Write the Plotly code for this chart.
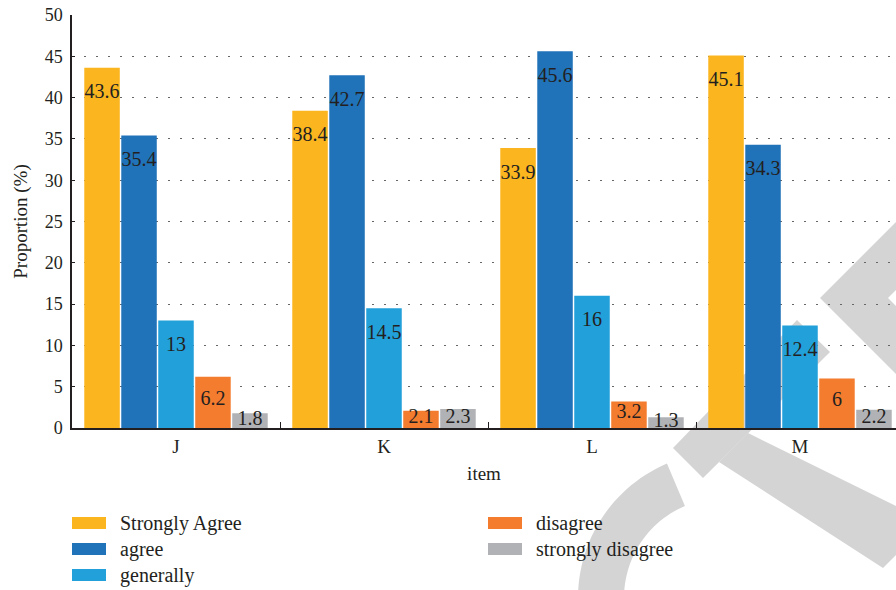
import numpy as np
import plotly.graph_objects as go

# ---------------- data ----------------
items = ["J", "K", "L", "M"]
series_names = ["Strongly Agree", "agree", "generally", "disagree", "strongly disagree"]
strongly_agree = [43.6, 38.4, 33.9, 45.1]
agree = [35.4, 42.7, 45.6, 34.3]
generally = [13, 14.5, 16, 12.4]
disagree = [6.2, 2.1, 3.2, 6]
strongly_disagree = [1.8, 2.3, 1.3, 2.2]
y_ticks = [0, 5, 10, 15, 20, 25, 30, 35, 40, 45, 50]

series_values = [strongly_agree, agree, generally, disagree, strongly_disagree]
colors = ["#FBB51F", "#2072B9", "#22A0DA", "#F47C2F", "#B1B2B6"]

FONT = "Liberation Serif, Times New Roman, serif"
TXT = "#231F20"
BARGAP = 0.111

fig = go.Figure()
for name, vals, col in zip(series_names, series_values, colors):
    fig.add_trace(go.Bar(
        x=items, y=vals, name=name, marker=dict(color=col, line=dict(width=0)),
        showlegend=False, hoverinfo="skip"))

# value labels drawn as text points grouped like the bars
for name, vals, col in zip(series_names, series_values, colors):
    ypos = [max(v - 3.1, v * 0.55) for v in vals]
    fig.add_trace(go.Scatter(
        x=items, y=ypos, mode="text", text=[f"{v:g}" for v in vals],
        textposition="middle center", textfont=dict(family=FONT, size=20, color=TXT),
        showlegend=False, hoverinfo="skip", cliponaxis=False))

# ---------------- geometry helpers (pixel -> paper) ----------------
L, R, T, B = 72, 896, 15, 428
def px(x):
    return (x - L) / (R - L)
def py(y):
    return (B - y) / (B - T)
def poly(points):
    return "M " + " L ".join(f"{px(x):.5f},{py(y):.5f}" for x, y in points) + " Z"

WM = "#D4D4D4"
shapes = []
# watermark (background decoration)
shapes.append(dict(type="path", xref="paper", yref="paper", layer="below",
                   path=poly([(896, 222), (820, 298), (896, 374), (896, 306), (888, 298), (896, 290)]),
                   fillcolor=WM, line=dict(width=0)))
shapes.append(dict(type="path", xref="paper", yref="paper", layer="below",
                   path=poly([(673, 448), (797, 320), (830, 352), (703, 478)]),
                   fillcolor=WM, line=dict(width=0)))
shapes.append(dict(type="path", xref="paper", yref="paper", layer="below",
                   path=poly([(748, 433), (896, 506), (896, 555), (883, 568), (719, 462)]),
                   fillcolor=WM, line=dict(width=0)))
cx, cy, ro, ri = 724, 598, 146, 100
th = np.radians(np.linspace(155, 247, 40))
outer = [(cx + ro * np.cos(t), cy + ro * np.sin(t)) for t in th]
inner = [(cx + ri * np.cos(t), cy + ri * np.sin(t)) for t in th[::-1]]
shapes.append(dict(type="path", xref="paper", yref="paper", layer="below",
                   path=poly(outer + inner), fillcolor=WM, line=dict(width=0)))

# custom legend (two columns)
annotations = []
legend_slots = [(72, 523), (72, 549), (72, 575), (488, 523), (488, 549)]
for name, col, (lx, ly) in zip(series_names, colors, legend_slots):
    shapes.append(dict(type="rect", xref="paper", yref="paper",
                       x0=px(lx), x1=px(lx + 34), y0=py(ly + 6), y1=py(ly - 6),
                       fillcolor=col, line=dict(width=0)))
    annotations.append(dict(xref="paper", yref="paper", x=px(lx + 46), y=py(ly),
                            xanchor="left", yanchor="middle", showarrow=False, text=name,
                            font=dict(family=FONT, size=20, color=TXT)))

fig.update_layout(
    width=896, height=590,
    margin=dict(l=L, r=896 - R, t=T, b=590 - B, autoexpand=False),
    paper_bgcolor="white", plot_bgcolor="rgba(0,0,0,0)",
    barmode="group", bargap=BARGAP, bargroupgap=0.04,
    scattermode="group", scattergap=BARGAP,
    font=dict(family=FONT, size=18, color=TXT),
    shapes=shapes, annotations=annotations,
    showlegend=False,
)
fig.update_xaxes(
    range=[-0.5, -0.5 + (R - L) / 208.0], showline=True, linecolor=TXT, linewidth=1.5,
    ticks="inside", tickson="boundaries", ticklen=6, tickcolor=TXT, tickwidth=1.2,
    showgrid=False, zeroline=False, tickfont=dict(family=FONT, size=19, color=TXT),
    title=dict(text="item", font=dict(family=FONT, size=19, color=TXT), standoff=11),
    automargin=False,
)
fig.update_yaxes(
    range=[0, 50], tickvals=y_ticks, showline=True, linecolor=TXT, linewidth=1.5,
    ticks="inside", ticklen=3, tickcolor=TXT, ticklabelstandoff=4,
    showgrid=True, gridcolor="#666", gridwidth=1.2, griddash="2px,10px",
    zeroline=False, tickfont=dict(family=FONT, size=18, color=TXT),
    title=dict(text="Proportion (%)", font=dict(family=FONT, size=19, color=TXT), standoff=12),
    automargin=False,
)

fig.write_html("out.html")
